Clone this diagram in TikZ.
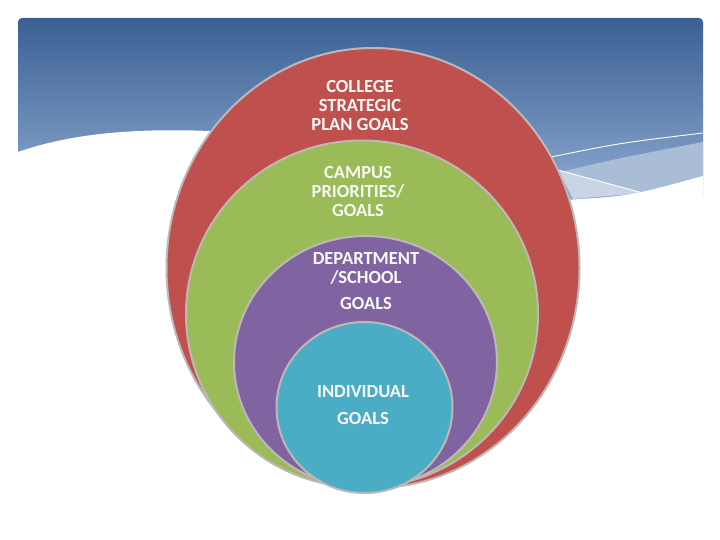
\documentclass[tikz,border=0pt]{standalone}
\usepackage{fontspec}
\setmainfont{Carlito}
\usetikzlibrary{shapes.geometric}
\definecolor{bannertop}{HTML}{3B6094}
\definecolor{bannerbot}{HTML}{8DAAD0}
\definecolor{bandlight}{HTML}{A9BDD7}
\definecolor{bandpale}{HTML}{C9D5E4}
\definecolor{cred}{HTML}{C0504D}
\definecolor{cgreen}{HTML}{9BBB59}
\definecolor{cpurple}{HTML}{8064A2}
\definecolor{ccyan}{HTML}{4BACC6}
\definecolor{rimgray}{HTML}{BDB7B7}
\definecolor{txtwhite}{HTML}{F8F8F4}
\tikzset{
  ring/.style={draw=rimgray, line width=2pt, ellipse, inner sep=0pt},
  lbl/.style={text=txtwhite, font=\fontsize{18.5}{19}\selectfont\bfseries, align=center, inner sep=0pt}
}
\begin{document}
\begin{tikzpicture}[x=1pt,y=-1pt]
\useasboundingbox (0,0) rectangle (720,540);
\fill[white] (0,0) rectangle (720,540);
% banner
\shade[top color=bannertop, bottom color=bannerbot, rounded corners=4pt] (18,18) rectangle (703,200);
\fill[white] (18,152) .. controls (70,134) and (130,128) .. (210,131) -- (210,215) -- (18,215) -- cycle;
\fill[bandlight] (560,172) .. controls (620,158) .. (703,142) -- (703,180) -- (640,194) -- cycle;
\fill[bandpale] (558,170) -- (643,193) -- (573,199) -- cycle;
\fill[white] (565,200) .. controls (630,196) .. (703,176) -- (703,215) -- (565,215) -- cycle;
\draw[white, line width=0.9pt] (551,157) .. controls (620,143) .. (703,133);
\draw[white, line width=0.9pt] (558,170) -- (643,193);
% circles
\node[ring, fill=cred, minimum width=413pt, minimum height=440pt] (red) at (373,268) {};
\node[ring, fill=cgreen, minimum width=352pt, minimum height=347pt] (green) at (362,314) {};
\node[ring, fill=cpurple, minimum width=263pt, minimum height=252pt] (purple) at (365.5,362) {};
\node[ring, fill=ccyan, minimum width=176pt, minimum height=171pt] (cyan) at (364.5,407.5) {};
% labels
\node[lbl] (t1) at (360,105) {COLLEGE\\STRATEGIC\\PLAN GOALS};
\node[lbl] (t2) at (358,191) {CAMPUS\\PRIORITIES/\\GOALS};
\node[lbl] (t3) at (366,281) {DEPARTMENT\\/SCHOOL\\[7pt]GOALS};
\node[lbl] (t4) at (363,405) {INDIVIDUAL\\[8pt]GOALS};
\end{tikzpicture}
\end{document}
